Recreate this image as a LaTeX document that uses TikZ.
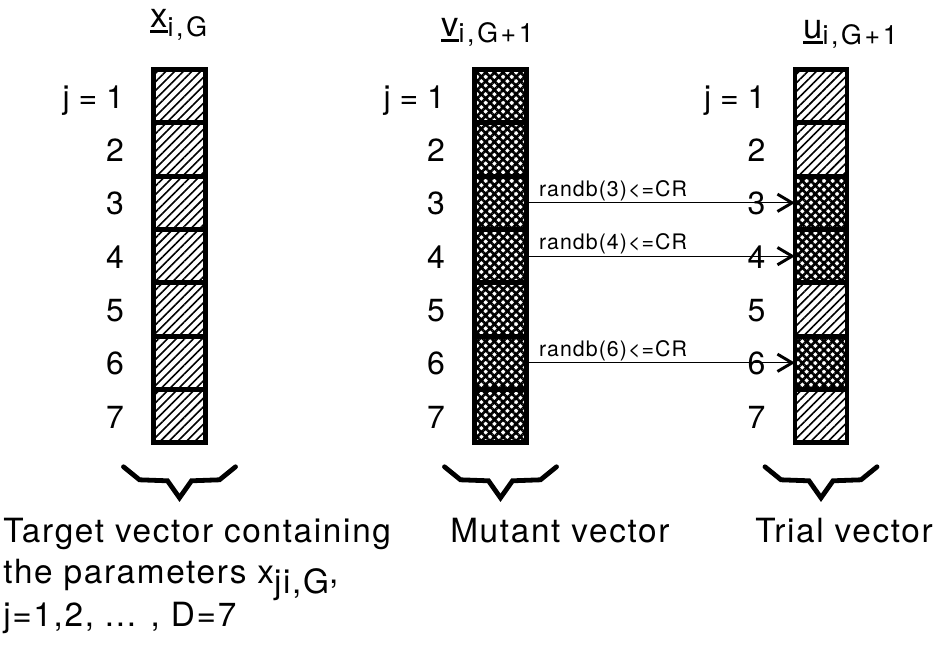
\documentclass[tikz,border=0pt]{standalone}
\usepackage{fontspec}
\setmainfont{TeX Gyre Heros}
\newfontfamily\spacedfont[LetterSpace=5]{TeX Gyre Heros}
\newfontfamily\widefont[LetterSpace=10]{TeX Gyre Heros}
\usepackage{tikz}
\usetikzlibrary{positioning,calc,arrows.meta,patterns.meta}

\newcommand{\vecbar}[1]{\vtop{\hbox{#1}\kern1.2pt\hrule height 2.4pt}}

\tikzset{
  cellbox/.style={draw=black, line width=3.6pt, minimum width=39pt, minimum height=40pt, inner sep=0pt, outer sep=0pt},
  hatch/.style={cellbox, pattern={Lines[angle=45,distance=4.6pt,line width=1.2pt]}},
  cross/.style={cellbox, pattern={Hatch[angle=45,distance=4.6pt,line width=2pt]}},
  numlbl/.style={inner sep=0pt, font=\fontsize{24}{28}\selectfont},
  ttl/.style={inner sep=0pt, font=\fontsize{26}{30}\selectfont},
  captxt/.style={inner sep=0pt, font=\spacedfont\fontsize{25}{29}\selectfont},
  crlbl/.style={inner sep=0pt, font=\spacedfont\fontsize{16}{18}\selectfont},
  crarrow/.style={line width=0.8pt, -{Straight Barb[length=11pt,width=13pt,line width=2.2pt]}},
  bracket/.style={line width=3.6pt, line cap=round}
}

\begin{document}
\begin{tikzpicture}[x=0.75pt, y=-0.75pt]
  \fill[white] (0,0) rectangle (933,645);
  \useasboundingbox (0,0) rectangle (933,645);

  % Target vector (Left)
  \foreach \j in {1,...,7}
    \node[hatch] (x\j) at (179.5,{69.5+53.33*(\j-0.5)}) {};
  \foreach \j in {1,...,7}
    \node[numlbl, anchor=base east] (lx\j) at ([xshift=-22pt, yshift=-9pt]x\j.west) {\ifnum\j=1 j = \fi\j};
  \node[ttl, anchor=base west] (ttlx) at (150,28) {\vecbar{x}\raisebox{-6.5pt}{\widefont\fontsize{20}{24}\selectfont i,G}};

  % Mutant vector (Middle)
  \foreach \j in {1,...,7}
    \node[cross] (v\j) at (500.5,{69.5+53.33*(\j-0.5)}) {};
  \foreach \j in {1,...,7}
    \node[numlbl, anchor=base east] (lv\j) at ([xshift=-22pt, yshift=-9pt]v\j.west) {\ifnum\j=1 j = \fi\j};
  \node[ttl, anchor=base west] (ttlv) at (441,37) {\vecbar{v}\raisebox{-4.5pt}{\widefont\fontsize{20}{24}\selectfont i,G+1}};

  % Trial vector (Right)
  \foreach \j/\pat in {1/hatch,2/hatch,3/cross,4/cross,5/hatch,6/cross,7/hatch}
    \node[\pat] (u\j) at (821,{69.5+53.33*(\j-0.5)}) {};
  \foreach \j in {1,...,7}
    \node[numlbl, anchor=base east] (lu\j) at ([xshift=-22pt, yshift=-9pt]u\j.west) {\ifnum\j=1 j = \fi\j};
  \node[ttl, anchor=base west] (ttlu) at (803,39) {\vecbar{u}\raisebox{-4.5pt}{\widefont\fontsize{20}{24}\selectfont i,G+1}};

  % Crossover arrows
  \foreach \j in {3,4,6}
    \draw[crarrow] (v\j.east) -- (u\j.west)
      node[crlbl, pos=0, anchor=base west, xshift=9pt, yshift=5pt] (cr\j) {randb(\j)<=CR};

  % Brackets
  \foreach \c in {x,v,u}
    \draw[bracket] ([shift={(-56,24)}]\c7.south) -- ++(16,13) -- ++(28,1) -- ++(12,17)
      -- ++(12,-17) -- ++(28,-1) -- ++(16,-13);

  % Captions
  \node[captxt, anchor=base west] (capx1) at (3,542) {Target vector containing};
  \node[captxt, anchor=base west] (capx2) at (3,584) {the parameters x\raisebox{-7pt}{ji,G},};
  \node[captxt, anchor=base west] (capx3) at (3,627) {j=1,2, ... , D=7};
  \node[captxt, anchor=base west] (capv) at (450,542) {Mutant vector};
  \node[captxt, anchor=base west] (capu) at (755,542) {Trial vector};
\end{tikzpicture}
\end{document}
